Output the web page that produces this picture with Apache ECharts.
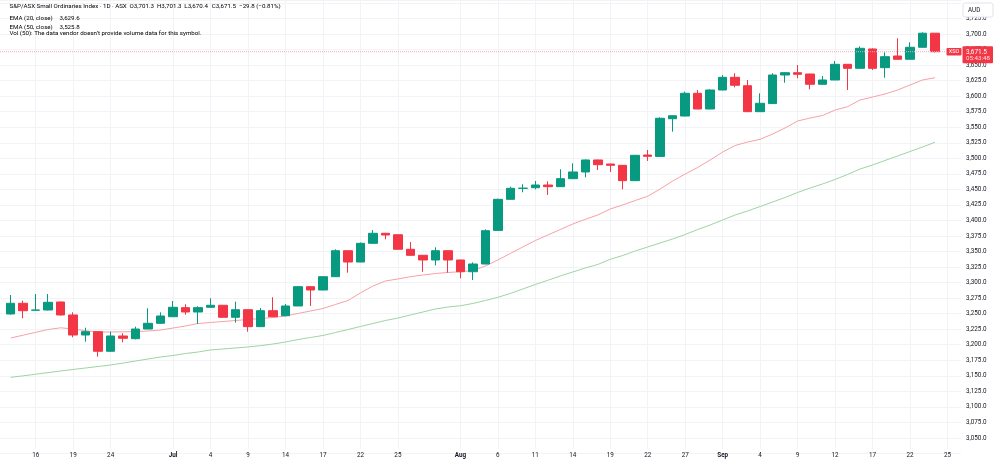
<!DOCTYPE html>
<html><head><meta charset="utf-8">
<script src="https://cdn.jsdelivr.net/npm/echarts@6/dist/echarts.min.js"></script>
<style>html,body{margin:0;padding:0;background:#fff}#c{width:1000px;height:468px}</style>
</head><body><div id="c"></div>
<script>
// ---- DATA ----
const dates = [
 '2025-06-12','2025-06-13','2025-06-16','2025-06-17','2025-06-18','2025-06-19','2025-06-20','2025-06-23','2025-06-24','2025-06-25','2025-06-26','2025-06-27','2025-06-30',
 '2025-07-01','2025-07-02','2025-07-03','2025-07-04','2025-07-07','2025-07-08','2025-07-09','2025-07-10','2025-07-11','2025-07-14','2025-07-15','2025-07-16','2025-07-17','2025-07-18','2025-07-21','2025-07-22','2025-07-23','2025-07-24','2025-07-25','2025-07-28','2025-07-29','2025-07-30','2025-07-31',
 '2025-08-01','2025-08-04','2025-08-05','2025-08-06','2025-08-07','2025-08-08','2025-08-11','2025-08-12','2025-08-13','2025-08-14','2025-08-15','2025-08-18','2025-08-19','2025-08-20','2025-08-21','2025-08-22','2025-08-25','2025-08-26','2025-08-27','2025-08-28','2025-08-29',
 '2025-09-01','2025-09-02','2025-09-03','2025-09-04','2025-09-05','2025-09-08','2025-09-09','2025-09-10','2025-09-11','2025-09-12','2025-09-15','2025-09-16','2025-09-17','2025-09-18','2025-09-19','2025-09-22','2025-09-23','2025-09-24','2025-09-25'
];
const opens = [3249.5,3266.7,3255.6,3255.9,3268.8,3247.9,3215.7,3221.0,3189.5,3214.1,3209.7,3225.3,3234.5,
 3245.1,3259.7,3252.7,3260.3,3263.5,3244.2,3256.4,3229.1,3254.8,3246.7,3262.4,3293.4,3288.1,3309.5,3351.3,3333.1,3363.2,3379.3,3377.0,3353.6,3343.9,3336.4,3351.3,
 3336.4,3317.5,3329.9,3384.0,3434.0,3451.6,3452.7,3457.0,3454.3,3467.2,3478.0,3497.3,3490.8,3488.7,3464.0,3505.3,3503.0,3563.7,3568.0,3604.6,3579.3,
 3609.9,3630.3,3616.8,3575.0,3588.0,3634.0,3637.7,3635.6,3619.1,3626.0,3651.2,3644.8,3675.9,3645.8,3664.6,3659.3,3678.6,3701.3];
const closes = [3266.7,3254.8,3255.9,3268.3,3247.9,3215.7,3221.0,3189.5,3214.1,3210.4,3225.3,3234.5,3246.3,
 3260.3,3252.7,3259.7,3263.5,3244.2,3256.4,3229.1,3254.8,3245.1,3262.4,3293.4,3288.1,3309.5,3351.3,3333.1,3363.2,3379.3,3376.6,3353.6,3343.9,3336.4,3351.3,3336.4,
 3317.5,3329.9,3383.5,3434.0,3451.7,3452.0,3457.0,3454.3,3467.2,3478.0,3497.3,3489.7,3488.7,3464.0,3504.8,3503.2,3564.4,3568.5,3604.6,3579.3,3609.9,
 3630.3,3617.5,3575.0,3588.5,3634.0,3637.7,3635.2,3619.1,3626.0,3651.2,3644.8,3677.0,3644.8,3663.5,3659.3,3678.6,3701.3,3671.5];
const lows = [3248.5,3242.6,3255.0,3255.2,3247.2,3212.0,3204.9,3180.8,3189.0,3203.9,3208.7,3225.0,3234.0,
 3244.8,3248.4,3233.4,3260.0,3243.8,3235.5,3221.0,3228.8,3244.8,3245.7,3262.0,3262.4,3287.8,3309.2,3315.9,3332.8,3362.9,3369.7,3353.3,3343.6,3317.5,3327.8,3315.9,
 3306.9,3304.2,3329.6,3383.7,3433.7,3445.3,3450.0,3441.0,3454.0,3466.9,3469.4,3481.2,3478.0,3450.1,3463.7,3495.7,3502.7,3542.8,3567.7,3579.0,3579.0,
 3609.6,3614.2,3574.7,3574.7,3587.7,3621.6,3628.7,3611.0,3618.8,3625.7,3609.9,3644.5,3642.1,3629.7,3659.0,3659.0,3678.3,3670.4];
const highs = [3280.0,3270.9,3281.7,3281.7,3269.2,3252.2,3227.4,3221.6,3221.0,3218.4,3229.1,3258.6,3252.2,
 3270.4,3265.1,3261.9,3274.7,3264.0,3269.3,3256.8,3259.1,3276.4,3265.6,3294.0,3293.8,3310.0,3353.6,3351.8,3364.5,3384.6,3380.0,3377.4,3365.3,3344.2,3356.8,3351.6,
 3336.7,3332.6,3385.7,3435.0,3454.3,3458.2,3463.5,3463.0,3482.3,3492.0,3498.0,3498.0,3491.2,3489.0,3505.2,3513.4,3566.0,3569.0,3607.2,3609.9,3611.0,
 3634.0,3636.8,3626.0,3604.6,3636.8,3638.5,3650.1,3636.0,3632.4,3656.6,3651.5,3680.2,3677.0,3670.6,3693.1,3686.6,3702.7,3701.3];
const ema20 = [3210.9,3215.4,3220.0,3224.5,3227.3,3225.3,3222.5,3220.5,3220.5,3220.8,3221.2,3222.1,3223.7,
 3226.9,3230.2,3234.2,3235.8,3237.4,3239.0,3240.6,3242.2,3243.8,3246.3,3250.3,3254.3,3258.3,3264.8,3271.2,3283.3,3294.5,3302.6,3305.8,3309.5,3312.2,3314.6,3316.3,
 3317.5,3319.5,3326.7,3336.4,3346.8,3357.3,3367.7,3376.6,3385.4,3394.3,3401.8,3408.8,3418.4,3424.9,3432.1,3438.9,3450.6,3463.5,3474.7,3485.2,3497.3,
 3510.1,3520.6,3526.2,3530.6,3539.1,3548.8,3560.0,3564.8,3568.9,3577.7,3583.0,3593.8,3598.6,3603.5,3609.9,3617.9,3626.0,3629.6];
const ema50 = [3147.6,3150.0,3152.6,3155.2,3157.8,3160.2,3162.6,3165.0,3167.4,3170.6,3173.8,3177.1,3180.3,
 3182.7,3185.9,3188.3,3191.6,3193.2,3194.8,3196.4,3198.5,3201.2,3204.4,3208.4,3211.7,3214.9,3219.7,3224.5,3229.4,3234.2,3239.0,3243.0,3247.9,3252.7,3257.5,3260.7,
 3262.7,3266.4,3271.2,3276.3,3282.5,3289.7,3297.0,3303.7,3310.6,3317.1,3323.5,3329.1,3337.5,3343.6,3350.8,3357.3,3363.7,3370.2,3377.4,3385.4,3392.7,
 3400.7,3408.8,3415.2,3422.4,3429.7,3436.9,3445.0,3452.2,3458.7,3465.9,3474.0,3482.8,3489.2,3496.5,3503.7,3510.9,3518.2,3525.8];
const tickDates = ['2025-06-16','2025-06-19','2025-06-24','2025-07-01','2025-07-04','2025-07-09','2025-07-14','2025-07-17','2025-07-22','2025-07-25',
 '2025-08-01','2025-08-06','2025-08-11','2025-08-14','2025-08-19','2025-08-22','2025-08-27','2025-09-01','2025-09-04','2025-09-09','2025-09-12','2025-09-17','2025-09-22','2025-09-25'];
const tickLabels = ['16','19','24','Jul','4','9','14','17','22','25','Aug','6','11','14','19','22','27','Sep','4','9','12','17','22','25'];
const monthLabels = ['Jul','Aug','Sep'];
const yTickMin = 3025, yTickStep = 25;
const symbolName = 'S&P/ASX Small Ordinaries Index · 1D · ASX';
const tickerTag = 'XSO';
const currency = 'AUD';
const countdown = '05:43:48';

// ---- CHART ----
const labelMap = {};
tickDates.forEach((d, i) => labelMap[d] = tickLabels[i]);
const candles = opens.map((o, i) => [o, closes[i], lows[i], highs[i]]);
const fmt = v => v.toLocaleString('en-US', {minimumFractionDigits: 1, maximumFractionDigits: 1});
const FONT = 'Roboto, "Noto Sans", sans-serif';
const UP = '#089981', DOWN = '#f23645', TXT = '#131722', GRIDC = '#f2f3f6';
const PXY = 0.6215;               // pixel per point, shared by both grids
const topVal = 3754.7;
const g1Bottom = 449;
const isTick = (idx, val) => labelMap[val !== undefined ? val : dates[idx]] !== undefined;

const chart = echarts.init(document.getElementById('c'), null, {renderer: 'canvas'});
const option = {
  animation: false,
  backgroundColor: '#ffffff',
  textStyle: {fontFamily: FONT},
  grid: [
    {left: 0, right: 39, top: 0, height: (topVal - yTickMin) * PXY},
    {left: 10.7, right: 52.5, top: 0, height: g1Bottom}
  ],
  xAxis: [
    {type: 'value', gridIndex: 0, min: 0, max: 1, show: false},
    {type: 'category', gridIndex: 1, data: dates, boundaryGap: false,
     axisLine: {show: false}, axisTick: {show: false},
     splitLine: {show: true, interval: isTick, lineStyle: {color: GRIDC, width: 1}},
     axisLabel: {interval: isTick, margin: 3, fontSize: 6.3, color: TXT, fontFamily: FONT,
       formatter: v => { const l = labelMap[v]; if (!l) return ''; return monthLabels.includes(l) ? '{m|' + l + '}' : l; },
       rich: {m: {fontSize: 6.3, fontWeight: 'bold', color: TXT, fontFamily: FONT}}}}
  ],
  yAxis: [
    {type: 'value', gridIndex: 0, position: 'right', min: yTickMin, max: topVal, interval: yTickStep,
     axisLine: {show: false}, axisTick: {show: false},
     splitLine: {show: true, lineStyle: {color: GRIDC, width: 1}},
     axisLabel: {margin: 5, fontSize: 6.3, color: TXT, fontFamily: FONT,
       formatter: v => (v <= yTickMin || v > topVal - 10) ? '' : fmt(v)}},
    {type: 'value', gridIndex: 1, min: topVal - g1Bottom / PXY, max: topVal, show: false, splitLine: {show: false}}
  ],
  series: [
    {type: 'line', name: 'EMA50', xAxisIndex: 1, yAxisIndex: 1, data: ema50, symbol: 'none', z: 1,
     lineStyle: {color: '#9fd3a2', width: 1}},
    {type: 'line', name: 'EMA20', xAxisIndex: 1, yAxisIndex: 1, data: ema20, symbol: 'none', z: 1,
     lineStyle: {color: '#f7a0a7', width: 1}},
    {type: 'candlestick', xAxisIndex: 1, yAxisIndex: 1, data: candles, barWidth: 9, clip: false, z: 3,
     itemStyle: {color: UP, color0: DOWN, borderColor: UP, borderColor0: DOWN, borderWidth: 1}}
  ]
};
chart.setOption(option);

// overlays: legend + price tag, placed through the chart's own scale
const last = closes.length - 1;
const chg = closes[last] - closes[last - 1];
const pct = chg / closes[last - 1] * 100;
const sgn = x => (x < 0 ? '−' : '+');
const py = chart.convertToPixel({yAxisIndex: 1}, closes[last]);
const lastX = chart.convertToPixel({xAxisIndex: 1}, dates[last]);
const FS = 6.2;
const rich = {
  t: {fontSize: FS, color: TXT, fontFamily: FONT},
  k: {fontSize: FS, color: TXT, fontFamily: FONT},
  r: {fontSize: FS, color: DOWN, fontFamily: FONT},
  g: {fontSize: FS, color: '#4caf50', fontFamily: FONT}
};
const ohlcParts = [
  '{k|O}{r|' + fmt(opens[last]) + '}',
  '{k|H}{r|' + fmt(highs[last]) + '}',
  '{k|L}{r|' + fmt(lows[last]) + '}',
  '{k|C}{r|' + fmt(closes[last]) + '}',
  '{r|' + sgn(chg) + Math.abs(chg).toFixed(1) + ' (' + sgn(pct) + Math.abs(pct).toFixed(2) + '%)}'
];
const rowTop = [3.6, 12.1, 21.1, 30.1];
const graphics = [
  {type: 'text', left: 9.5, top: rowTop[0], z: 100, style: {text: '{t|' + symbolName + '}', rich: rich}},
  {type: 'text', left: 9.5, top: rowTop[1], z: 100, style: {text: '{t|EMA (20, close)}  {r|' + fmt(ema20[last]) + '}', rich: rich}},
  {type: 'text', left: 9.5, top: rowTop[2], z: 100, style: {text: '{t|EMA (50, close)}  {g|' + fmt(ema50[last]) + '}', rich: rich}},
  {type: 'text', left: 9.5, top: rowTop[3], z: 100, style: {text: '{t|Vol (50): The data vendor doesn\u2019t provide volume data for this symbol.}', rich: rich}},
  {type: 'line', z: 50, shape: {x1: 0, y1: py, x2: lastX + 11, y2: py}, style: {stroke: '#f7aab0', lineWidth: 1, lineDash: [1, 1]}},
  {type: 'rect', z: 60, shape: {x: lastX + 11.5, y: py - 3.8, width: 15, height: 7.6, r: 1}, style: {fill: DOWN}},
  {type: 'text', z: 61, x: lastX + 19, y: py, style: {text: tickerTag, fill: '#fff', fontSize: 5.6, fontFamily: FONT, align: 'center', verticalAlign: 'middle'}},
  {type: 'rect', z: 60, shape: {x: 962.5, y: py - 5.5, width: 30.5, height: 17, r: 1}, style: {fill: DOWN}},
  {type: 'text', z: 61, x: 966, y: py + 0.3, style: {text: fmt(closes[last]), fill: '#fff', fontSize: 6.4, fontFamily: FONT, verticalAlign: 'middle'}},
  {type: 'text', z: 61, x: 966, y: py + 7.2, style: {text: countdown, fill: '#fde0e2', fontSize: 6.2, fontFamily: FONT, verticalAlign: 'middle'}},
  {type: 'rect', z: 60, shape: {x: 963, y: 3, width: 30, height: 14, r: 2}, style: {fill: '#fff', stroke: '#e0e3eb', lineWidth: 1}},
  {type: 'text', z: 61, x: 968, y: 10, style: {text: currency, fill: TXT, fontSize: 6.3, fontFamily: FONT, verticalAlign: 'middle'}}
];
ohlcParts.forEach((p, i) => graphics.push({type: 'text', left: 129.5 + i * 27.4, top: rowTop[0], z: 100, style: {text: p, rich: rich}}));
chart.setOption({graphic: graphics});
</script></body></html>
